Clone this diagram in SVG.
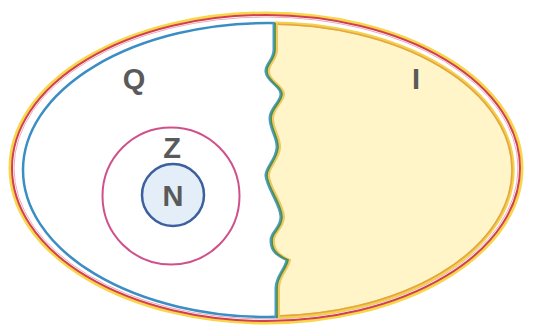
<svg xmlns="http://www.w3.org/2000/svg" width="534" height="325" viewBox="0 0 534 325">
  <defs>
    <style>
      .lbl { font-family: "Liberation Sans", Arial, sans-serif; font-weight: bold; fill: #5a5a5a; text-anchor: middle; }
    </style>
    <clipPath id="leftClip">
      <path d="M275,0 L275,50 C275,60 266,64 267,72 C268,82 282,86 282,94 C282,102 271,108 271,118 C271,130 279,138 278,148 C277,160 266,168 267,176 C268,188 282,205 282,217 C282,228 272,232 272,240 C272,248 274,254 288,260 C286,270 277,276 277,288 L277,325 L0,325 L0,0 Z"/>
    </clipPath>
    <clipPath id="rightClip">
      <path d="M275,0 L275,50 C275,60 266,64 267,72 C268,82 282,86 282,94 C282,102 271,108 271,118 C271,130 279,138 278,148 C277,160 266,168 267,176 C268,188 282,205 282,217 C282,228 272,232 272,240 C272,248 274,254 288,260 C286,270 277,276 277,288 L277,325 L534,325 L534,0 Z"/>
    </clipPath>
    <path id="wave" d="M275,23 L275,50 C275,60 266,64 267,72 C268,82 282,86 282,94 C282,102 271,108 271,118 C271,130 279,138 278,148 C277,160 266,168 267,176 C268,188 282,205 282,217 C282,228 272,232 272,240 C272,248 274,254 288,260 C286,270 277,276 277,288 L277,318" fill="none"/>
  </defs>
  <rect width="534" height="325" fill="#ffffff"/>

  <g id="outer">
    <ellipse cx="266" cy="168" rx="256" ry="155" fill="none" stroke="#f7d64a" stroke-width="3"/>
    <ellipse cx="266" cy="168" rx="254" ry="153" fill="none" stroke="#d2404e" stroke-width="2"/>
    <ellipse cx="266" cy="168" rx="252" ry="151" fill="none" stroke="#ecaac0" stroke-width="1"/>
  </g>

  <g id="region-Q">
    <ellipse cx="268" cy="170" rx="245" ry="147" fill="#ffffff" stroke="#3a8ec4" stroke-width="2.5" clip-path="url(#leftClip)"/>
    <text class="lbl" x="134" y="89" font-size="29">Q</text>
  </g>

  <g id="region-I">
    <ellipse cx="268" cy="170" rx="245" ry="147" fill="#fff5c8" stroke="#f2d24a" stroke-width="3.5" clip-path="url(#rightClip)"/>
    <ellipse cx="268" cy="170" rx="244" ry="146" fill="none" stroke="#e6a444" stroke-width="1.5" clip-path="url(#rightClip)"/>
    <text class="lbl" x="416" y="89" font-size="29">I</text>
  </g>

  <g id="boundary">
    <use href="#wave" transform="translate(-1.5,0)" stroke="#4a9cc8" stroke-width="2"/>
    <use href="#wave" transform="translate(2,0)" stroke="#f0c860" stroke-width="2"/>
    <use href="#wave" stroke="#4f8f4a" stroke-width="1.8"/>
  </g>

  <g id="circle-Z">
    <circle cx="171" cy="196" r="68.5" fill="none" stroke="#d0508c" stroke-width="2"/>
    <text class="lbl" x="172" y="158" font-size="29">Z</text>
  </g>

  <g id="circle-N">
    <circle cx="173" cy="195" r="31" fill="#e4eef8" stroke="#3d5f9e" stroke-width="2.5"/>
    <text class="lbl" x="173" y="206" font-size="29">N</text>
  </g>
</svg>
